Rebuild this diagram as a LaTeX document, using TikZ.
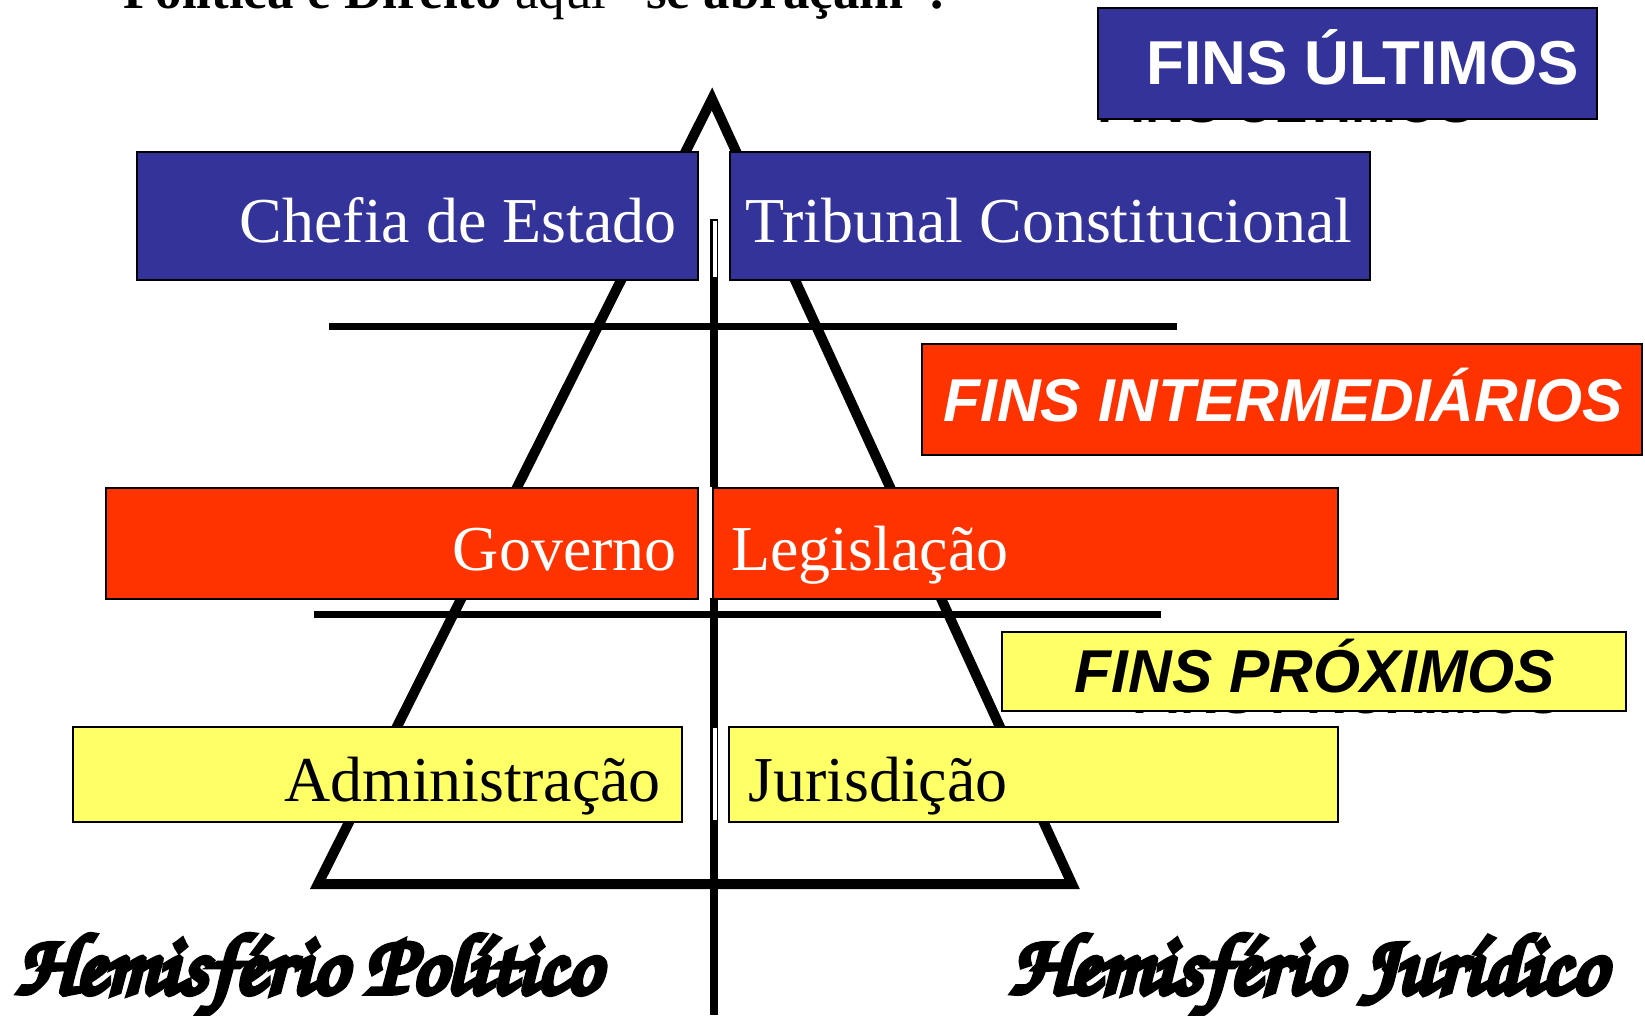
\documentclass[tikz,border=0pt]{standalone}
\usepackage[T1]{fontenc}
\usepackage{fontspec}
\setmainfont{Liberation Serif}
\newfontfamily\arialf{Liberation Sans}
\usepackage{graphicx}
\definecolor{fblue}{HTML}{333399}
\definecolor{fred}{HTML}{FF3300}
\definecolor{fyellow}{HTML}{FFFF66}
\newcommand\hemifont{\fontencoding{T1}\fontfamily{pzc}\fontseries{m}\fontshape{it}\selectfont}
\newcommand\hemitext[3]{\resizebox{#1pt}{#2pt}{\hemifont\special{pdf:literal direct 2 Tr 0.7 w}#3\special{pdf:literal direct 0 Tr}}}
\begin{document}
\begin{tikzpicture}[x=1pt,y=-1pt,
  box/.style={draw=black, line width=1.5pt, anchor=north west, inner sep=0pt},
  lbl/.style={font=\fontsize{64}{70}\selectfont, inner sep=0pt},
  finsfont/.style={font=\arialf\bfseries\fontsize{62}{68}\selectfont, inner sep=0pt},
  finsit/.style={font=\arialf\bfseries\itshape\fontsize{60.5}{66}\selectfont, inner sep=0pt},
  hiddenfont/.style={font=\arialf\bfseries\fontsize{54}{60}\selectfont, inner sep=0pt},
  thick line/.style={line width=10pt, line join=miter},
  level line/.style={line width=7pt},
  axis line/.style={line width=8pt}]
\useasboundingbox (0,0) rectangle (1645,1015);
\clip (0,0) rectangle (1645,1015);

% title (cut at the top)
\node[anchor=base west, inner sep=0pt, font=\fontsize{53}{60}\selectfont] (title) at (123,8)
  {\textbf{Política e Direito} aqui \textbf{“se abraçam”.}};

% pyramid
\coordinate (apex) at (712,99);
\coordinate (bl) at (318,884);
\coordinate (br) at (1072,884);
\draw[thick line] (apex) -- (bl) -- (br) -- cycle;

% level lines
\coordinate (h1a) at (329,326);
\coordinate (h1b) at (1177,326);
\coordinate (h2a) at (314,614);
\coordinate (h2b) at (1161,614);
\draw[level line] (h1a) -- (h1b);
\draw[level line] (h2a) -- (h2b);

% central axis
\coordinate (vtop) at (714,219);
\coordinate (vbot) at (714,1015);
\draw[axis line] (vtop) -- (vbot);
\fill[white] (713,221) rectangle (717,277);
\fill[white] (708,487) rectangle (716,598);
\fill[white] (713,728) rectangle (717,820);

% hidden texts behind the boxes
\node[hiddenfont, anchor=base west] (hidU) at (1097,122) {FINS ÚLTIMOS};
\node[hiddenfont, anchor=base west] (hidP) at (1132,713) {FINS PRÓXIMOS};

% boxes
\node[box, fill=fblue, minimum width=499, minimum height=111] (ultimos) at (1097,7) {};
\node[box, fill=fblue, minimum width=561, minimum height=128] (chefia) at (136,151) {};
\node[box, fill=fblue, minimum width=640, minimum height=128] (tribunal) at (729,151) {};
\node[box, fill=fred, minimum width=720, minimum height=111] (inter) at (921,343) {};
\node[box, fill=fred, minimum width=592, minimum height=111] (governo) at (105,487) {};
\node[box, fill=fred, minimum width=625, minimum height=111] (legis) at (712,487) {};
\node[box, fill=fyellow, minimum width=624, minimum height=79] (proximos) at (1001,631) {};
\node[box, fill=fyellow, minimum width=609, minimum height=95] (admin) at (72,726) {};
\node[box, fill=fyellow, minimum width=609, minimum height=95] (juris) at (728,726) {};

% box texts
\node[finsfont, white, anchor=base west] (ultimosT) at (1146,84) {FINS ÚLTIMOS};
\node[finsit, white, anchor=base] (interT) at (1283,421) {FINS INTERMEDIÁRIOS};
\node[finsit, black, anchor=base] (proximosT) at (1315,692) {FINS PRÓXIMOS};
\node[lbl, white, anchor=base east] (chefiaT) at (677,242) {Chefia de Estado};
\node[lbl, white, anchor=base west] (tribunalT) at (745,242) {Tribunal Constitucional};
\node[lbl, white, anchor=base east] (governoT) at (677,570) {Governo};
\node[lbl, white, anchor=base west] (legisT) at (731,570) {Legislação};
\node[lbl, black, anchor=base east] (adminT) at (661,801) {Administração};
\node[lbl, black, anchor=base west] (jurisT) at (748,801) {Jurisdição};

% hemispheres
\node[anchor=base west, inner sep=0pt] (hpol) at (16,993) {\hemitext{584}{61}{Hemisf\'erio Pol\'{\i}tico}};
\node[anchor=base west, inner sep=0pt] (hjur) at (1010,993) {\hemitext{595}{61}{Hemisf\'erio Jur\'{\i}dico}};
\end{tikzpicture}
\end{document}
